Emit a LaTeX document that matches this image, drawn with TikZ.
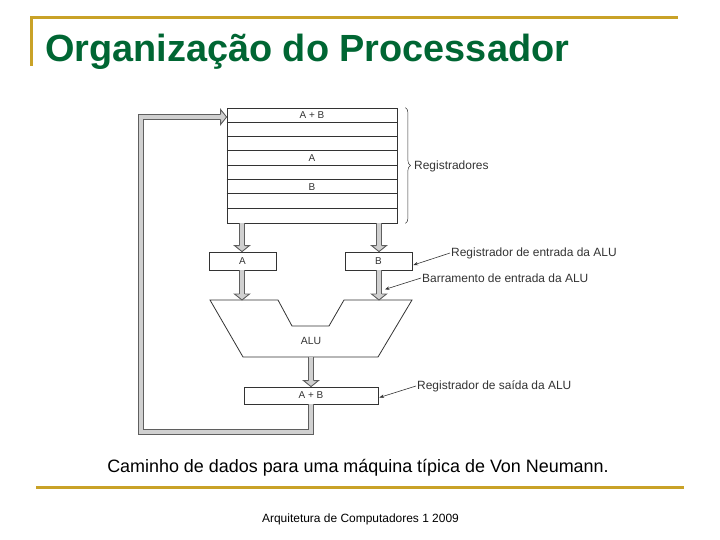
\documentclass[tikz,border=0pt]{standalone}
\usepackage{fontspec}
\setmainfont{Liberation Sans}
\usetikzlibrary{arrows.meta,calc,decorations.pathreplacing}
\definecolor{gold}{RGB}{201,162,39}
\definecolor{titlegreen}{RGB}{0,102,51}
\definecolor{busedge}{RGB}{95,95,95}
\definecolor{busfill}{RGB}{208,208,208}
\definecolor{ink}{RGB}{51,51,51}
\newcommand\busheadat[2]{\filldraw[bushead, shift={#1}, rotate=#2] (-6bp,2.75bp) -- (-6bp,7.5bp) -- (0,0) -- (-6bp,-7.5bp) -- (-6bp,-2.75bp);}
\begin{document}
\begin{tikzpicture}[x=1bp,y=-1bp,
  box/.style={draw=ink, line width=0.8bp, minimum width=67bp, minimum height=18bp, inner sep=0, font=\fontsize{10}{12}\selectfont, text=ink},
  rowlabel/.style={inner sep=0, font=\fontsize{10}{12}\selectfont, text=ink},
  bus/.style={draw=busedge, line width=0.9bp, double=busfill, double distance=4.6bp, line join=miter},
  bushead/.style={draw=busedge, fill=busfill, line width=0.9bp, line join=miter},
  note/.style={font=\fontsize{12}{14}\selectfont, text=ink, anchor=west, inner sep=1bp},
  pointer/.style={draw=ink, line width=0.6bp, -{Stealth[length=4.5bp,width=3.5bp]}},
  goldline/.style={draw=gold, line width=3bp},
]
\useasboundingbox (0,0) rectangle (720,540);
% frame lines
\draw[goldline] (30,18) -- (678,18);
\draw[goldline] (31,16.5) -- (31,66);
\draw[goldline] (36,487) -- (684,487);
% title
\node[anchor=base west, inner sep=0, font=\fontsize{38}{40}\selectfont\bfseries, text=titlegreen] (title) at (45,62) {Organização do Processador};
% register file
\node[draw=ink, line width=0.8bp, minimum width=170bp, minimum height=115bp, inner sep=0] (regs) at (312,165.5) {};
\foreach \i in {1,...,7}
  \draw[ink, line width=0.7bp] ($(regs.north west)+(0,\i*14.375)$) -- ($(regs.north east)+(0,\i*14.375)$);
\node[rowlabel] (rab) at ($(regs.north)+(0,7.2)$) {A + B};
\node[rowlabel] (ra) at ($(regs.north)+(0,50.3)$) {A};
\node[rowlabel] (rb) at ($(regs.north)+(0,79.1)$) {B};
% brace
\draw[ink, line width=0.5bp, decorate, decoration={brace, amplitude=5bp}] ($(regs.north east)+(8,0)$) -- ($(regs.south east)+(8,0)$);
\node[note] (lregs) at (413,166) {Registradores};
% ALU input registers
\node[box] (A) at (242.5,261) {A};
\node[box] (B) at (378.5,261) {B};
\coordinate (ax) at (242,0);
\coordinate (bx) at (379,0);
% ALU
\coordinate (alu1) at (210,300);
\coordinate (alu2) at (278,300);
\coordinate (alu3) at (292,326);
\coordinate (alu4) at (329,326);
\coordinate (alu5) at (344,300);
\coordinate (alu6) at (412,300);
\coordinate (alu7) at (378,357);
\coordinate (alu8) at (243,357);
\draw[ink, line width=0.8bp] (alu1) -- (alu2) -- (alu3) -- (alu4) -- (alu5) -- (alu6) -- (alu7) -- (alu8) -- cycle;
\node[rowlabel, font=\fontsize{10.5}{12}\selectfont] (alu) at (311,341) {ALU};
\coordinate (alubot) at (311,357);
% output register
\node[box, minimum width=134bp, minimum height=17bp] (out) at (311,395.5) {A + B};
% buses
\draw[bus, shorten >=6bp] (regs.south -| ax) -- (A.north -| ax);
\busheadat{(A.north -| ax)}{-90}
\draw[bus, shorten >=6bp] (regs.south -| bx) -- (B.north -| bx);
\busheadat{(B.north -| bx)}{-90}
\draw[bus, shorten >=6bp] (A.south -| ax) -- (alu1 -| ax);
\busheadat{(alu1 -| ax)}{-90}
\draw[bus, shorten >=6bp] (B.south -| bx) -- (alu6 -| bx);
\busheadat{(alu6 -| bx)}{-90}
\draw[bus, shorten >=6bp] (alubot) -- (out.north);
\busheadat{(out.north)}{-90}
% feedback path
\coordinate (fbl) at (141,432);
\coordinate (fbt) at (141,117);
\coordinate (fbend) at (regs.west |- fbt);
\draw[bus, shorten >=6bp] (out.south) |- (fbl) |- (fbend);
\busheadat{(fbend)}{0}
% annotations
\node[note] (lin) at (450,253) {Registrador de entrada da ALU};
\node[note] (lbus) at (421,278) {Barramento de entrada da ALU};
\node[note] (lout) at (416,386) {Registrador de saída da ALU};
\draw[pointer] (lin.west) -- ($(B.east)+(1,4)$);
\draw[pointer] (lbus.west) -- ($(B.south -| bx)+(6,19)$);
\draw[pointer] (lout.west) -- ($(out.east)+(1,2)$);
% caption and footer
\node[anchor=base, inner sep=0, font=\fontsize{18}{20}\selectfont] (cap) at (358,472) {Caminho de dados para uma máquina típica de Von Neumann.};
\node[anchor=base, inner sep=0, font=\fontsize{12}{14}\selectfont] (foot) at (360.5,522) {Arquitetura de Computadores 1 2009};
\end{tikzpicture}
\end{document}
